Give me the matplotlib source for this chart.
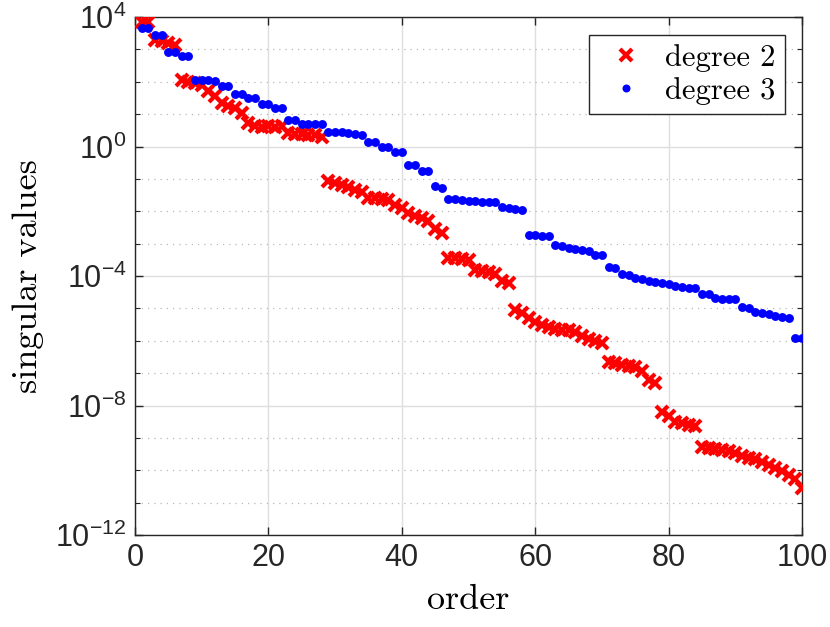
import numpy as np
import matplotlib
matplotlib.use("Agg")
import matplotlib.pyplot as plt
from matplotlib.ticker import FixedLocator, FixedFormatter, NullFormatter

# singular values (index 1..100)
order = np.arange(1, 101)

degree2 = [6.9e3, 6.9e3, 2.0e3, 1.8e3, 1.6e3, 1.4e3, 1.1e2, 1.0e2, 89, 79,
           50, 37, 22, 18, 15, 11, 5.5, 4.4, 4.0, 4.2,
           4.0, 4.2, 2.7, 2.5, 2.4, 2.3, 2.3, 2.0, 0.085, 0.074,
           0.063, 0.055, 0.046, 0.039, 0.025, 0.025, 0.024, 0.022, 0.016, 0.013,
           8.7e-3, 7.2e-3, 6.3e-3, 5.0e-3, 2.9e-3, 2.2e-3, 3.5e-4, 3.5e-4, 3.4e-4, 3.2e-4,
           1.5e-4, 1.4e-4, 1.3e-4, 1.15e-4, 7.0e-5, 6.0e-5, 9.0e-6, 7.0e-6, 5.0e-6, 3.9e-6,
           3.0e-6, 2.6e-6, 2.3e-6, 2.2e-6, 2.1e-6, 1.8e-6, 1.4e-6, 1.1e-6, 9.5e-7, 8.7e-7,
           2.2e-7, 2.0e-7, 1.8e-7, 1.65e-7, 1.55e-7, 1.2e-7, 6.0e-8, 4.8e-8, 6.1e-9, 4.6e-9,
           3.1e-9, 2.8e-9, 2.5e-9, 2.3e-9, 5.4e-10, 5.0e-10, 4.6e-10, 4.2e-10, 3.8e-10, 3.3e-10,
           2.8e-10, 2.4e-10, 2.3e-10, 1.8e-10, 1.5e-10, 1.2e-10, 9.5e-11, 7.2e-11, 5.5e-11, 2.9e-11]

degree3 = [4.7e3, 4.7e3, 2.8e3, 2.8e3, 8.3e2, 8.3e2, 6.2e2, 6.2e2, 1.15e2, 1.15e2,
           1.1e2, 1.05e2, 76, 76, 42, 42, 32, 32, 20, 20,
           16, 16, 6.5, 6.5, 5.1, 5.1, 5.0, 4.9, 2.9, 2.9,
           2.8, 2.7, 2.5, 2.3, 1.4, 1.4, 1.0, 1.0, 0.69, 0.69,
           0.26, 0.26, 0.17, 0.17, 0.059, 0.052, 0.024, 0.024, 0.022, 0.021,
           0.021, 0.020, 0.020, 0.019, 0.014, 0.013, 0.012, 0.011, 1.8e-3, 1.8e-3,
           1.7e-3, 1.7e-3, 9.0e-4, 8.6e-4, 7.3e-4, 6.9e-4, 6.4e-4, 6.1e-4, 4.5e-4, 4.5e-4,
           1.85e-4, 1.75e-4, 1.15e-4, 1.05e-4, 8.9e-5, 8.1e-5, 6.8e-5, 6.5e-5, 6.1e-5, 5.5e-5,
           5.0e-5, 4.7e-5, 4.2e-5, 4.2e-5, 2.7e-5, 2.7e-5, 2.05e-5, 2.0e-5, 2.0e-5, 1.9e-5,
           1.13e-5, 1.06e-5, 7.5e-6, 7.0e-6, 6.7e-6, 6.0e-6, 5.3e-6, 5.0e-6, 1.2e-6, 1.2e-6]

x_ticks = [0, 20, 40, 60, 80, 100]
y_ticks = [1e-12, 1e-8, 1e-4, 1e0, 1e4]
y_tick_labels = [r"$\mathregular{10^{-12}}$", r"$\mathregular{10^{-8}}$",
                 r"$\mathregular{10^{-4}}$", r"$\mathregular{10^{0}}$",
                 r"$\mathregular{10^{4}}$"]
y_minor = [10.0 ** k for k in range(-12, 5)]

plt.rcParams["font.family"] = ["Liberation Sans", "DejaVu Sans"]
plt.rcParams["axes.unicode_minus"] = False
plt.rcParams["mathtext.fontset"] = "custom"
plt.rcParams["mathtext.rm"] = "Liberation Sans"
serif = "cmr10"

fig = plt.figure(figsize=(8.3, 6.27), dpi=100)
ax = fig.add_axes([135 / 830, 1 - 535 / 627, 667 / 830, 518 / 627])

ax.plot(order, degree2, linestyle="none", marker="x", color="red",
        markersize=9, markeredgewidth=3.0, label="degree 2", zorder=3)
ax.plot(order, degree3, linestyle="none", marker="o", color="blue",
        markersize=6.4, markeredgewidth=0, label="degree 3", zorder=4)

ax.set_yscale("log")
ax.set_xlim(0, 100)
ax.set_ylim(1e-12, 1e4)

ax.xaxis.set_major_locator(FixedLocator(x_ticks))
ax.yaxis.set_major_locator(FixedLocator(y_ticks))
ax.yaxis.set_major_formatter(FixedFormatter(y_tick_labels))
ax.yaxis.set_minor_locator(FixedLocator(y_minor))
ax.yaxis.set_minor_formatter(NullFormatter())

ax.grid(True, which="major", color="#dedede", linewidth=1.0, linestyle="-")
ax.grid(True, which="minor", axis="y", color="#b8b8b8", linewidth=0.9,
        linestyle=(0, (1, 4)))
ax.set_axisbelow(True)

ax.tick_params(which="both", direction="in", top=True, right=True,
               colors="#262626", labelcolor="#262626")
ax.tick_params(which="major", length=6, width=1, labelsize=22, pad=6)
ax.tick_params(which="minor", length=3.5, width=0.8)
for sp in ax.spines.values():
    sp.set_color("#262626")
    sp.set_linewidth(1.0)

ax.set_xlabel("order", fontfamily=serif, fontsize=26, labelpad=8)
ax.set_ylabel("singular values", fontfamily=serif, fontsize=26, labelpad=8)

leg = ax.legend(loc="upper right", bbox_to_anchor=(0.9745, 0.9653),
                prop={"family": serif, "size": 22}, frameon=True,
                fancybox=False, framealpha=1, edgecolor="#262626",
                borderpad=0.3, labelspacing=0.15, handletextpad=0.4,
                handlelength=1.8, borderaxespad=0, markerscale=0.9)
leg.get_frame().set_linewidth(1.0)

fig.savefig("out.png", dpi=100)
